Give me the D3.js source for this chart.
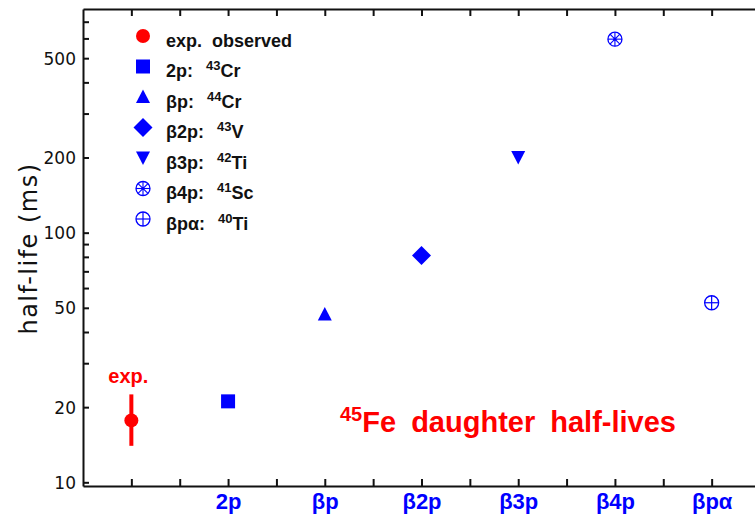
<!DOCTYPE html>
<html><head><meta charset="utf-8">
<script src="https://cdn.jsdelivr.net/npm/d3@7"></script>
<style>
html,body{margin:0;padding:0;background:#fff;}
svg{display:block;}
</style>
</head><body>
<svg id="chart" width="755" height="522"></svg>
<script>
// ---- data ----
const categories = ["exp.", "2p", "βp", "β2p", "β3p", "β4p", "βpα"];
const categoryPos = [1, 2, 3, 4, 5, 6, 7];
const halfLives = [17.7, 21.1, 47, 81, 200, 596, 52.4];
const expErrLow = [14.0];
const expErrHigh = [22.5];
const markerKinds = ["circle", "square", "triangle", "diamond", "triangleDown", "asteriskCircle", "crossCircle"];
const markerColors = ["#ff0000", "#0000ff", "#0000ff", "#0000ff", "#0000ff", "#0000ff", "#0000ff"];
const legendLabels = ["exp.\u00A0\u00A0observed", "2p:", "βp:", "β2p:", "β3p:", "β4p:", "βpα:"];
const legendMass = ["", "43", "44", "43", "42", "41", "40"];
const legendElement = ["", "Cr", "Cr", "V", "Ti", "Sc", "Ti"];
const yTickValues = [10,20,30,40,50,60,70,80,90,100,200,300,400,500,600,700];
const yTickLabels = [10,20,50,100,200,500];
const xTickValues = [1,1.5,2,2.5,3,3.5,4,4.5,5,5.5,6,6.5,7,7.5];
const yDomain = [9.665, 787];
const xDomain = [0.5, 7.5];

// ---- layout ----
const svg = d3.select("#chart");
const x = d3.scaleLinear().domain(xDomain).range([83, 760]);
const y = d3.scaleLog().domain(yDomain).range([486, 9]);
const axisColor = "#111";

// axes
const gL = svg.append("g").attr("transform", `translate(${x.range()[0]},0)`)
  .call(d3.axisLeft(y).tickValues(yTickValues).tickSizeInner(-6).tickSizeOuter(0).tickPadding(7)
    .tickFormat(d => yTickLabels.includes(d) ? d : ""));
const gB = svg.append("g").attr("transform", `translate(0,${y.range()[0]})`)
  .call(d3.axisBottom(x).tickValues(xTickValues).tickSizeInner(-7).tickSizeOuter(0).tickPadding(7)
    .tickFormat(d => {
      const i = categoryPos.indexOf(d);
      return i >= 1 ? categories[i] : "";
    }));
const gT = svg.append("g").attr("transform", `translate(0,${y.range()[1]})`)
  .call(d3.axisTop(x).tickValues(xTickValues).tickSizeInner(-7).tickSizeOuter(0).tickFormat(""));

[gL, gB, gT].forEach(g => {
  g.select(".domain").attr("stroke", axisColor).attr("stroke-width", 2);
  g.selectAll(".tick line").attr("stroke", axisColor).attr("stroke-width", 2);
});
gL.selectAll(".tick text").attr("font-family", "'DejaVu Sans', sans-serif").attr("font-size", 17)
  .attr("fill", "#111").attr("dy", "0.36em");
gB.selectAll(".tick text").attr("font-family", "'Liberation Sans', Arial, sans-serif").attr("font-size", 22)
  .attr("font-weight", "bold").attr("fill", "#0000ff");

// y label
svg.append("text")
  .attr("transform", `translate(37,${(y.range()[0] + y.range()[1]) / 2 + 1}) rotate(-90)`)
  .attr("text-anchor", "middle")
  .attr("font-family", "'DejaVu Sans', sans-serif").attr("font-size", 24).attr("letter-spacing", 1.5)
  .attr("fill", "#111")
  .text("half-life\u00A0(ms)");

// ---- marker drawing ----
function drawMarker(g, kind, color) {
  switch (kind) {
    case "circle":
      g.append("circle").attr("r", 7).attr("fill", color); break;
    case "square":
      g.append("rect").attr("x", -7).attr("y", -7).attr("width", 14).attr("height", 14).attr("fill", color); break;
    case "triangle":
      g.append("path").attr("d", "M0,-7.5L7,6L-7,6Z").attr("fill", color); break;
    case "triangleDown":
      g.append("path").attr("d", "M0,7L7,-6.5L-7,-6.5Z").attr("fill", color); break;
    case "diamond":
      g.append("path").attr("d", "M0,-9.5L9.5,0L0,9.5L-9.5,0Z").attr("fill", color); break;
    case "asteriskCircle": {
      g.append("circle").attr("r", 7).attr("fill", "none").attr("stroke", color).attr("stroke-width", 1.3);
      [0, 45, 90, 135].forEach(a => {
        const r = 7, c = Math.cos(a * Math.PI / 180) * r, s = Math.sin(a * Math.PI / 180) * r;
        g.append("line").attr("x1", -c).attr("y1", -s).attr("x2", c).attr("y2", s)
          .attr("stroke", color).attr("stroke-width", 1.1);
      });
      g.append("circle").attr("r", 1.6).attr("fill", color);
      break;
    }
    case "crossCircle":
      g.append("circle").attr("r", 7).attr("fill", "none").attr("stroke", color).attr("stroke-width", 1.3);
      g.append("line").attr("x1", -7).attr("x2", 7).attr("stroke", color).attr("stroke-width", 1.2);
      g.append("line").attr("y1", -7).attr("y2", 7).attr("stroke", color).attr("stroke-width", 1.2);
      break;
  }
}

// ---- data points ----
svg.append("line")
  .attr("x1", x(categoryPos[0])).attr("x2", x(categoryPos[0]))
  .attr("y1", y(expErrHigh[0])).attr("y2", y(expErrLow[0]))
  .attr("stroke", markerColors[0]).attr("stroke-width", 4);

categoryPos.forEach((p, i) => {
  const g = svg.append("g").attr("transform", `translate(${x(p)},${y(halfLives[i])})`);
  drawMarker(g, markerKinds[i], markerColors[i]);
});

// "exp." label
svg.append("text")
  .attr("x", x(categoryPos[0]) - 3).attr("y", y(expErrHigh[0]) - 11)
  .attr("text-anchor", "middle")
  .attr("font-family", "'Liberation Sans', Arial, sans-serif").attr("font-weight", "bold").attr("font-size", 20)
  .attr("fill", "#ff0000").text("exp.");

// ---- legend ----
const legend = svg.append("g").attr("transform", "translate(143,36)");
legendLabels.forEach((lab, i) => {
  const row = legend.append("g").attr("transform", `translate(0,${i * 30.5})`);
  drawMarker(row, markerKinds[i], markerColors[i]);
  const t = row.append("text").attr("x", 23).attr("y", 10.5)
    .attr("font-family", "'Liberation Sans', Arial, sans-serif").attr("font-weight", "bold")
    .attr("font-size", 18).attr("fill", "#111");
  t.append("tspan").text(lab);
  if (legendMass[i]) {
    t.append("tspan").attr("dx", 13).attr("dy", -7).attr("font-size", 13).text(legendMass[i]);
    t.append("tspan").attr("dy", 7).text(legendElement[i]);
  }
});

// ---- title annotation ----
const title = svg.append("text").attr("x", 340).attr("y", 432)
  .attr("font-family", "'Liberation Sans', Arial, sans-serif").attr("font-weight", "bold")
  .attr("font-size", 29).attr("fill", "#ff0000").attr("word-spacing", 7);
title.append("tspan").attr("font-size", 20).attr("dy", -11).text("45");
title.append("tspan").attr("dy", 11).text("Fe daughter half-lives");
</script>
</body></html>
